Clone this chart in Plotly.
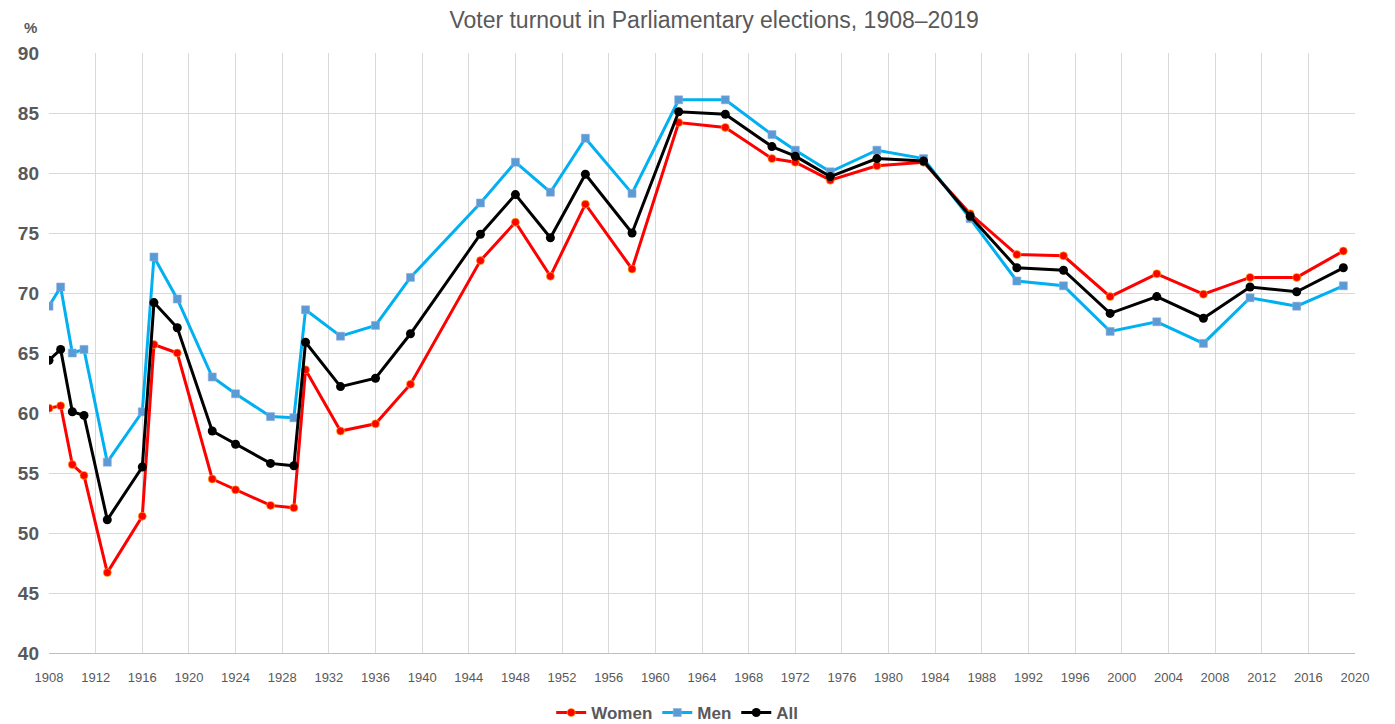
import plotly.graph_objects as go

years = [1908, 1909, 1910, 1911, 1913, 1916, 1917, 1919, 1922, 1924, 1927, 1929, 1930,
         1933, 1936, 1939, 1945, 1948, 1951, 1954, 1958, 1962, 1966, 1970, 1972, 1975,
         1979, 1983, 1987, 1991, 1995, 1999, 2003, 2007, 2011, 2015, 2019]

women = [60.4, 60.6, 55.7, 54.8, 46.7, 51.4, 65.7, 65.0, 54.5, 53.6, 52.3, 52.1, 63.6,
         58.5, 59.1, 62.4, 72.7, 75.9, 71.4, 77.4, 72.0, 84.2, 83.8, 81.2, 80.9, 79.4,
         80.6, 80.9, 76.6, 73.2, 73.1, 69.7, 71.6, 69.9, 71.3, 71.3, 73.5]

men = [68.9, 70.5, 65.0, 65.3, 55.9, 60.1, 73.0, 69.5, 63.0, 61.6, 59.7, 59.6, 68.6,
       66.4, 67.3, 71.3, 77.5, 80.9, 78.4, 82.9, 78.3, 86.1, 86.1, 83.2, 81.9, 80.1,
       81.9, 81.2, 76.2, 71.0, 70.6, 66.8, 67.6, 65.8, 69.6, 68.9, 70.6]

all_ = [64.4, 65.3, 60.1, 59.8, 51.1, 55.5, 69.2, 67.1, 58.5, 57.4, 55.8, 55.6, 65.9,
        62.2, 62.9, 66.6, 74.9, 78.2, 74.6, 79.9, 75.0, 85.1, 84.9, 82.2, 81.4, 79.7,
        81.2, 81.0, 76.4, 72.1, 71.9, 68.3, 69.7, 67.9, 70.5, 70.1, 72.1]

x_ticks = list(range(1908, 2021, 4))
y_ticks = list(range(40, 91, 5))

font_family = "Liberation Sans, Arial, sans-serif"
grey = "#595959"

fig = go.Figure()
fig.add_trace(go.Scatter(
    x=years, y=women, name="Women", mode="lines+markers",
    line=dict(color="#FF0000", width=3),
    marker=dict(symbol="circle", size=8, color="#FF0000",
                line=dict(color="#FFC000", width=0.6)),
))
fig.add_trace(go.Scatter(
    x=years, y=men, name="Men", mode="lines+markers",
    line=dict(color="#00B0F0", width=3),
    marker=dict(symbol="square", size=8, color="#5B9BD5",
                line=dict(color="#8FAADC", width=0.6)),
))
fig.add_trace(go.Scatter(
    x=years, y=all_, name="All", mode="lines+markers",
    line=dict(color="#000000", width=3),
    marker=dict(symbol="circle", size=9, color="#000000"),
))

fig.update_layout(
    width=1379, height=716,
    paper_bgcolor="white", plot_bgcolor="white",
    margin=dict(l=41, r=32, t=45, b=71, autoexpand=False),
    font=dict(family=font_family, color=grey),
    title=dict(text="Voter turnout in Parliamentary elections, 1908–2019",
               x=0.512, xanchor="center", y=0.984, yanchor="middle",
               font=dict(size=23, color=grey, family=font_family)),
    showlegend=True,
    legend=dict(orientation="h", x=0.481, xanchor="center", y=-0.1, yanchor="middle",
                font=dict(size=17, color=grey, family=font_family, weight="bold"),
                itemwidth=30, tracegroupgap=0),
)
fig.add_annotation(text="<b>%</b>", xref="paper", yref="paper",
                   x=-0.014, y=1.043, xanchor="center", yanchor="middle",
                   showarrow=False, font=dict(size=15, color=grey, family=font_family))

fig.update_xaxes(
    range=[1908, 2020], tickmode="array", tickvals=x_ticks,
    ticktext=[str(v) for v in x_ticks], automargin=False,
    showgrid=True, gridcolor="#D9D9D9", gridwidth=1,
    showline=True, linecolor="#BFBFBF", linewidth=1,
    zeroline=False, ticks="", ticklabelstandoff=12,
    tickfont=dict(size=13, color=grey, family=font_family),
)
fig.update_yaxes(
    range=[40, 90], tickmode="array", tickvals=y_ticks, automargin=False,
    showgrid=True, gridcolor="#D9D9D9", gridwidth=1,
    showline=False, zeroline=False, ticks="", ticklabelstandoff=9,
    tickfont=dict(size=19, color=grey, family=font_family, weight="bold"),
)

fig.write_html("out.html")
